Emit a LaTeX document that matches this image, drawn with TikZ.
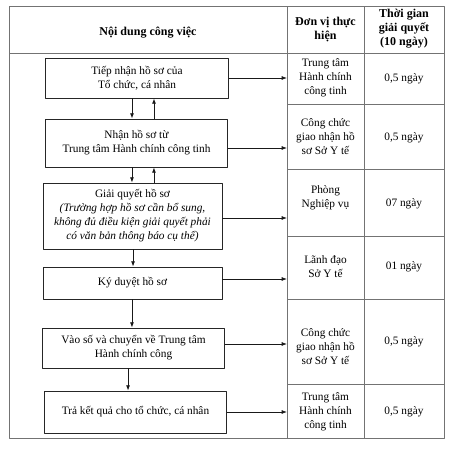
\documentclass[tikz,border=0pt]{standalone}
\usepackage{fontspec}
\setmainfont{Liberation Serif}
\usetikzlibrary{arrows.meta}

\begin{document}
\begin{tikzpicture}[x=0.75pt, y=-0.75pt, line join=round,
    luoi/.style={draw=black!55, line width=0.5pt},
    buoc/.style={draw=black!85, line width=0.6pt, minimum width=137pt, inner sep=2pt,
      align=center, font=\fontsize{8.5pt}{10.5pt}\selectfont},
    o/.style={align=center, inner sep=1pt, font=\fontsize{8.5pt}{10.5pt}\selectfont},
    tde/.style={align=center, inner sep=1pt, font=\fontsize{9pt}{10.5pt}\selectfont\bfseries},
    mt/.style={draw=black!90, line width=0.6pt, -{Latex[length=4pt,width=3pt]}}]
  \useasboundingbox (0,0) rectangle (458,454);
  % bang
  \draw[luoi] (9,6) rectangle (444,438);
  \draw[luoi] (287,6) -- (287,438) (364,6) -- (364,438) (9,53) -- (444,53);
  \foreach \y in {104,169,236,299,384}{ \draw[luoi] (287,\y) -- (444,\y);}
  \coordinate (c2) at (287,53);
  % tieu de
  \node[tde] (h1) at (148,33) {Nội dung công việc};
  \node[tde] (h2) at (325.5,30) {Đơn vị thực\\hiện};
  \node[tde] (h3) at (404,29) {Thời gian\\giải quyết\\(10 ngày)};
  % cac buoc
  \node[buoc, minimum height=30pt] (b1) at (137,78) {Tiếp nhận hồ sơ của\\Tổ chức, cá nhân};
  \node[buoc, minimum height=36pt] (b2) at (136.5,143) {Nhận hồ sơ từ\\Trung tâm Hành chính công tinh};
  \node[buoc, minimum height=49.5pt, minimum width=134.25pt] (b3) at (132.5,216)
    {Giải quyết hồ sơ\\\itshape (Trường hợp hồ sơ cần bổ sung,\\\itshape không đủ điều kiện giải quyết phải\\\itshape có văn bản thông báo cụ thể)};
  \node[buoc, minimum height=24pt, minimum width=134.25pt] (b4) at (132.5,283) {Ký duyệt hồ sơ};
  \node[buoc, minimum height=30pt] (b5) at (133.5,348) {Vào số và chuyển về Trung tâm\\Hành chính công};
  \node[buoc, minimum height=31.5pt] (b6) at (135.5,412) {Trả kết quả cho tổ chức, cá nhân};
  % don vi
  \node[o] (u1) at (325.5,78) {Trung tâm\\Hành chính\\công tinh};
  \node[o] (u2) at (325.5,137) {Công chức\\giao nhận hồ\\sơ Sở Y tế};
  \node[o] (u3) at (325.5,198) {Phòng\\Nghiệp vụ};
  \node[o] (u4) at (325.5,267) {Lãnh đạo\\Sở Y tế};
  \node[o] (u5) at (325.5,347) {Công chức\\giao nhận hồ\\sơ Sở Y tế};
  \node[o] (u6) at (325.5,412) {Trung tâm\\Hành chính\\công tinh};
  % thoi gian
  \node[o] (t1) at (404,79) {0,5 ngày};
  \node[o] (t2) at (404,138) {0,5 ngày};
  \node[o] (t3) at (404,204) {07 ngày};
  \node[o] (t4) at (404,267) {01 ngày};
  \node[o] (t5) at (404,342) {0,5 ngày};
  \node[o] (t6) at (404,412) {0,5 ngày};
  % mui ten doc
  \draw[mt] ([xshift=-3.75pt]b1.south) -- ([xshift=-3.75pt]b1.south |- b2.north);
  \draw[mt] ([xshift=12.75pt]b1.south |- b2.north) -- ([xshift=12.75pt]b1.south);
  \draw[mt] ([xshift=-3.4pt]b2.south) -- ([xshift=-3.4pt]b2.south |- b3.north);
  \draw[mt] ([xshift=13.1pt]b2.south |- b3.north) -- ([xshift=13.1pt]b2.south);
  \draw[mt] ([xshift=0.4pt]b3.south) -- ([xshift=0.4pt]b3.south |- b4.north);
  \draw[mt] ([xshift=-0.4pt]b4.south) -- ([xshift=-0.4pt]b4.south |- b5.north);
  \draw[mt] ([xshift=-4.1pt]b5.south) -- ([xshift=-4.1pt]b5.south |- b6.north);
  % mui ten ngang
  \draw[mt] (b1.east) -- (b1.east -| c2);
  \draw[mt] ([yshift=-3.75pt]b2.east) -- ([yshift=-3.75pt]b2.east -| c2);
  \draw[mt] ([yshift=-1.5pt]b3.east) -- ([yshift=-1.5pt]b3.east -| c2);
  \draw[mt] ([yshift=3pt]b4.east) -- ([yshift=3pt]b4.east -| c2);
  \draw[mt] ([yshift=3pt]b5.east) -- ([yshift=3pt]b5.east -| c2);
  \draw[mt] (b6.east) -- (b6.east -| c2);
\end{tikzpicture}
\end{document}
